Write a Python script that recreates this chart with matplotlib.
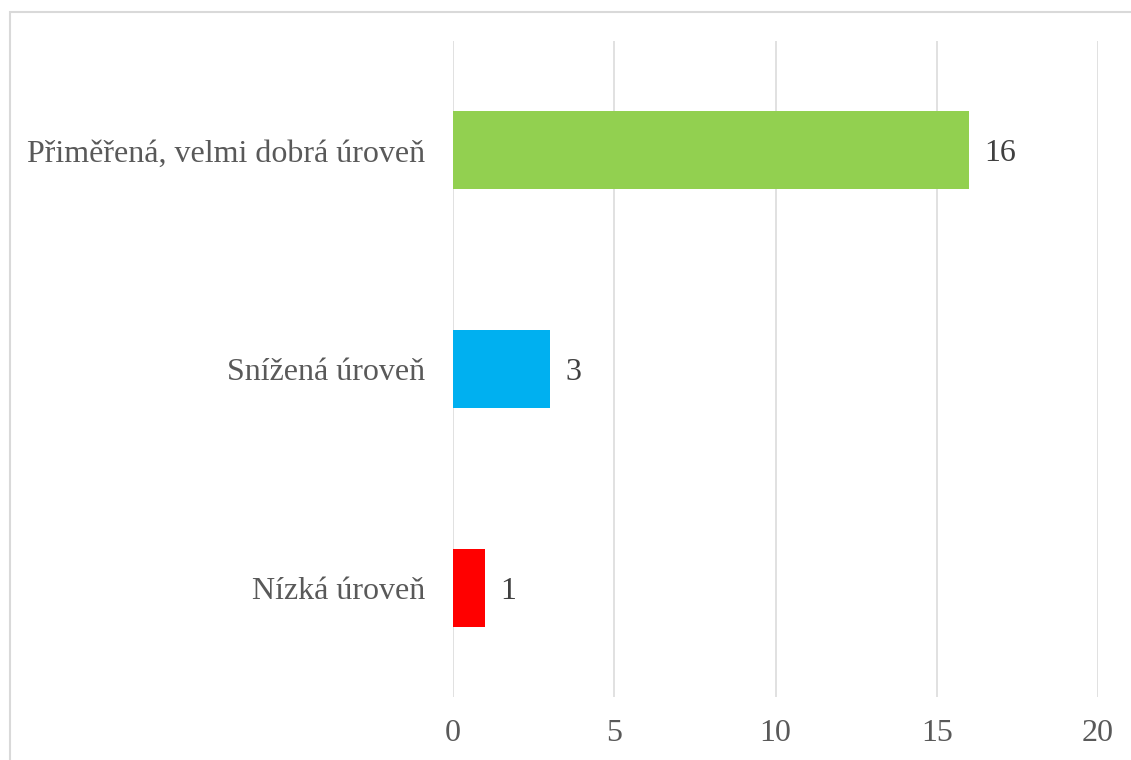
import matplotlib
matplotlib.use("Agg")
import matplotlib.pyplot as plt
from matplotlib.patches import Rectangle

categories = ["Nízká úroveň", "Snížená úroveň", "Přiměřená, velmi dobrá úroveň"]
values = [1, 3, 16]
colors = ["#FF0000", "#00B0F0", "#92D050"]
x_ticks = [0, 5, 10, 15, 20]


def main():
    plt.rcParams["font.family"] = ["Liberation Serif", "DejaVu Serif"]

    W, H = 1131, 760
    fig = plt.figure(figsize=(W / 100, H / 100), dpi=100)
    ax = fig.add_axes([453 / W, 1 - 697 / H, (1098 - 453) / W, (697 - 41) / H])

    y = range(len(categories))
    bars = ax.barh(y, values, height=0.357, color=colors, zorder=3)
    texts = ax.bar_label(bars, labels=[str(v) for v in values], padding=11,
                         fontsize=23, color="#404040")
    # nudge the value labels down a little to sit on the bar centre
    for t in texts:
        t.xyann = (11, -2.5)

    ax.set_xlim(0, 20)
    ax.set_ylim(-0.5, len(categories) - 0.5)
    ax.set_xticks(x_ticks)
    ax.set_xticklabels([str(t) for t in x_ticks])
    ax.set_yticks(list(y))
    ax.set_yticklabels(categories)
    ax.tick_params(axis="x", length=0, pad=16, labelsize=23, labelcolor="#595959")
    ax.tick_params(axis="y", length=0, pad=20, labelsize=23, labelcolor="#595959")
    ax.grid(axis="x", color="#D9D9D9", linewidth=1.1, zorder=0)
    for s in ax.spines.values():
        s.set_visible(False)

    # chart frame, cut off at right and bottom like the source
    frame = Rectangle((9.5 / W, -0.05), 1.1, 1.05 - 11.5 / H, transform=fig.transFigure,
                      fill=False, edgecolor="#D9D9D9", linewidth=1.5, clip_on=False)
    fig.patches.append(frame)

    fig.savefig("out.png", dpi=100)
    plt.close(fig)


if __name__ == "__main__":
    main()
